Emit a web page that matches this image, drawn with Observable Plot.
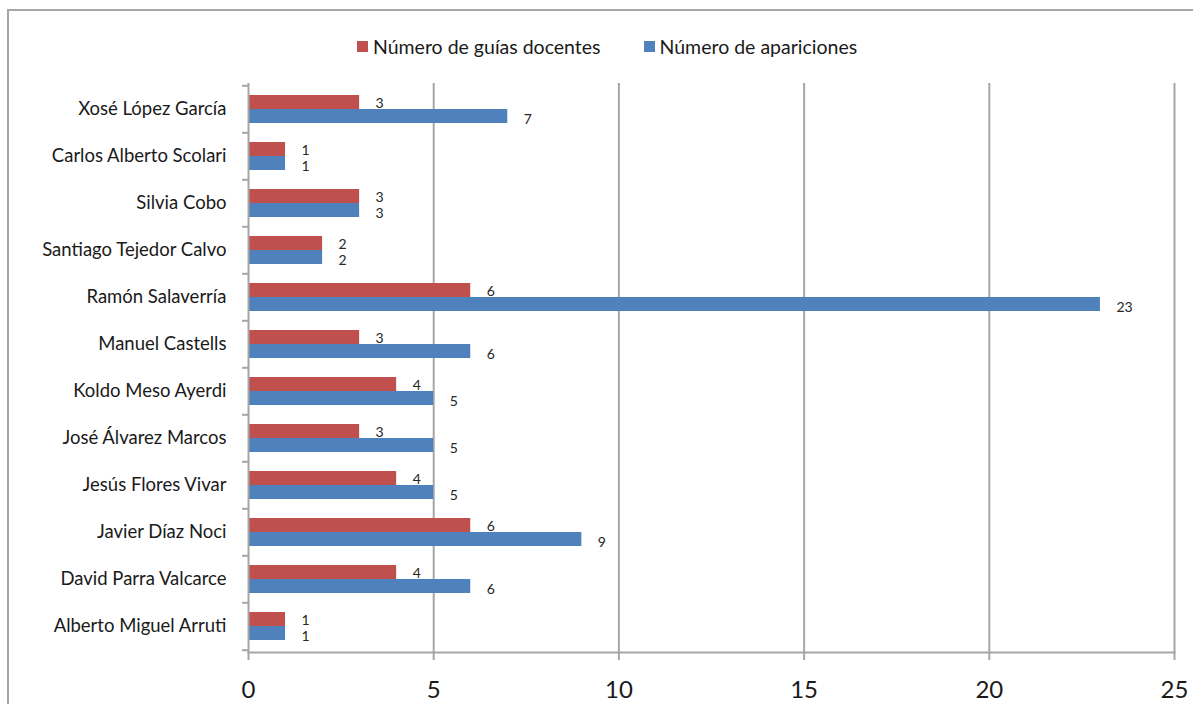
<!DOCTYPE html>
<html><head><meta charset="utf-8">
<script src="https://cdn.jsdelivr.net/npm/d3@7"></script>
<script src="https://cdn.jsdelivr.net/npm/@observablehq/plot@0.6"></script>
<style>
body{margin:0;width:1193px;height:704px;overflow:hidden;background:#fff;font-family:Lato,"Open Sans",sans-serif;}
#wrap{position:relative;width:1193px;height:704px;overflow:hidden;}
#frame{position:absolute;left:7px;top:9px;width:1220px;height:740px;border:2px solid #a6a6a6;box-sizing:border-box;}
#chart{position:absolute;left:0;top:0;}
#legend{position:absolute;top:35px;left:357px;display:flex;align-items:center;font-size:19.5px;color:#1a1a1a;white-space:nowrap;}
#legend .item{display:flex;align-items:center;}
#legend .sw{width:11px;height:11px;margin-right:5px;}
</style>
</head><body>
<div id="wrap"><div id="frame"></div><div id="chart"></div><div id="legend"></div></div>
<script>
const names = ["Xosé López García","Carlos Alberto Scolari","Silvia Cobo","Santiago Tejedor Calvo","Ramón Salaverría","Manuel Castells","Koldo Meso Ayerdi","José Álvarez Marcos","Jesús Flores Vivar","Javier Díaz Noci","David Parra Valcarce","Alberto Miguel Arruti"];
const guias = [3,1,3,2,6,3,4,3,4,6,4,1];
const apariciones = [7,1,3,2,23,6,5,5,5,9,6,1];
const seriesNames = ["Número de guías docentes","Número de apariciones"];
const seriesColors = ["#C0504D","#4F81BD"];
const xTicks = [0,5,10,15,20,25];

const rows = names.map((n,i)=>({name:n, guias:guias[i], apar:apariciones[i]}));
const W=1193, H=704, mT=83, mB=52, mL=248, mR=19;
const pad = 0.41;
const step = (H-mT-mB)/names.length;
const bw = step*(1-pad);
const gray = "#a6a6a6";

const plot = Plot.plot({
  width:W, height:H, marginTop:mT, marginBottom:mB, marginLeft:mL, marginRight:mR,
  style:{fontFamily:"Lato, 'Open Sans', sans-serif", background:"transparent", overflow:"visible"},
  x:{domain:[xTicks[0], xTicks[xTicks.length-1]], label:null},
  y:{domain:names, paddingInner:pad, paddingOuter:pad/2, label:null},
  marks:[
    Plot.ruleX(xTicks.slice(1), {stroke:gray, strokeWidth:2}),
    Plot.barX(rows, {y:"name", x:"guias", fill:seriesColors[0], insetBottom:bw/2}),
    Plot.barX(rows, {y:"name", x:"apar", fill:seriesColors[1], insetTop:bw/2}),
    Plot.ruleX([xTicks[0]], {stroke:gray, strokeWidth:2}),
    Plot.frame({anchor:"bottom", stroke:gray, strokeWidth:2}),
    Plot.text(rows, {x:"guias", y:"name", text:d=>String(d.guias), dx:16, dy:-5.5, textAnchor:"start", fontSize:14, fill:"#262626"}),
    Plot.text(rows, {x:"apar", y:"name", text:d=>String(d.apar), dx:16, dy:10.5, textAnchor:"start", fontSize:14, fill:"#262626"}),
    Plot.axisX(xTicks, {label:null, tickSize:8, tickPadding:20, fontSize:24, stroke:gray, strokeWidth:2, fill:"#1a1a1a"}),
    Plot.axisY({label:null, tickSize:0, tickPadding:22, fontSize:18.5, fill:"#1a1a1a"}),
    Plot.axisY({label:null, tickSize:6, tickFormat:()=>"", dy:-step/2, stroke:gray, strokeWidth:2}),
    Plot.axisY([names[names.length-1]], {label:null, tickSize:6, tickFormat:()=>"", dy:step/2, stroke:gray, strokeWidth:2})
  ]
});
document.getElementById("chart").appendChild(plot);

const legend = document.getElementById("legend");
seriesNames.forEach((s,i)=>{
  const it = document.createElement("div");
  it.className="item";
  if (i>0) it.style.marginLeft="43px";
  const sw = document.createElement("div");
  sw.className="sw"; sw.style.background=seriesColors[i];
  const t = document.createElement("span"); t.textContent=s;
  it.appendChild(sw); it.appendChild(t);
  legend.appendChild(it);
});
</script>
</body></html>
